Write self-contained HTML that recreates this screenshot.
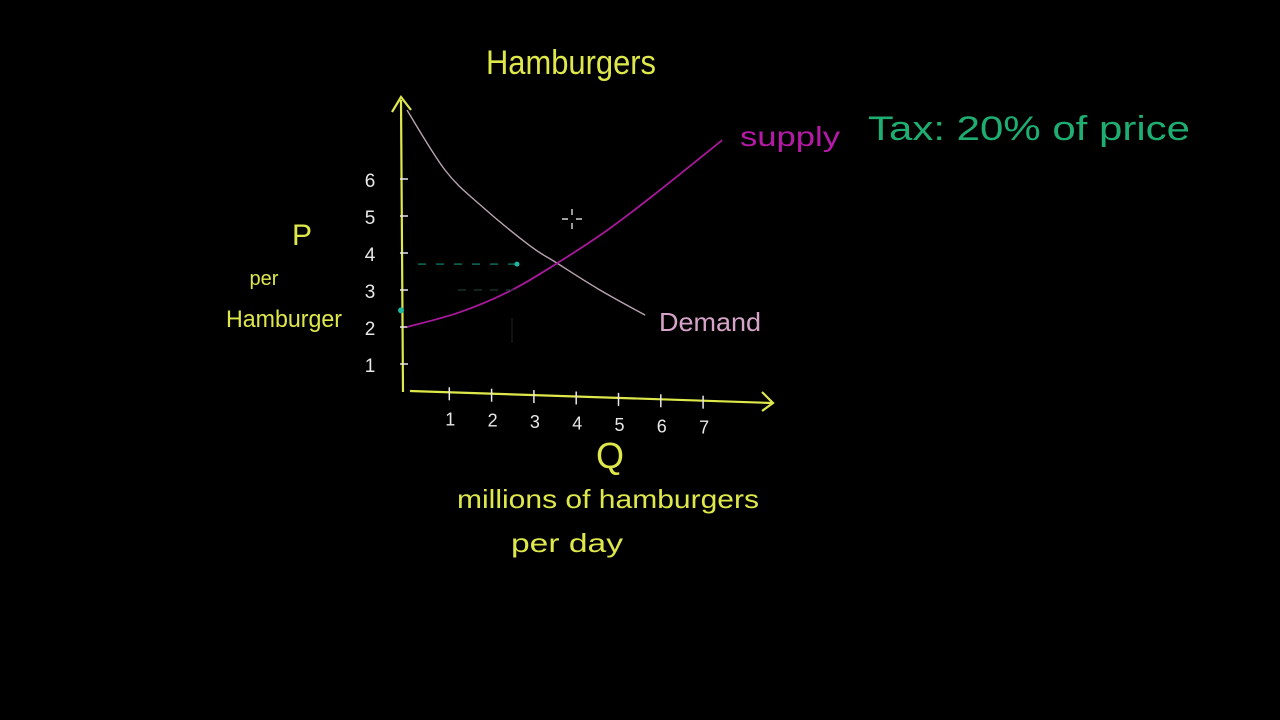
<!DOCTYPE html>
<html><head><meta charset="utf-8">
<style>
html,body{margin:0;padding:0;background:#000;width:1280px;height:720px;overflow:hidden}
svg{display:block}
text{font-family:"Liberation Sans",sans-serif}
</style></head>
<body>
<svg id="chart" width="1280" height="720" viewBox="0 0 1280 720" xmlns="http://www.w3.org/2000/svg">
<rect width="1280" height="720" fill="#000"/>
<text x="571" y="74" fill="#dfe84a" font-size="34" text-anchor="middle" textLength="170" lengthAdjust="spacingAndGlyphs">Hamburgers</text>
<text x="868" y="140" fill="#1fae72" font-size="34" textLength="322" lengthAdjust="spacingAndGlyphs">Tax: 20% of price</text>
<text x="740" y="146" fill="#b51aa6" font-size="28" textLength="100" lengthAdjust="spacingAndGlyphs">supply</text>
<text x="659" y="331" fill="#d7a3c8" font-size="26" textLength="102" lengthAdjust="spacingAndGlyphs">Demand</text>
<text x="302" y="245" fill="#dfe84a" font-size="30" text-anchor="middle">P</text>
<text x="264" y="285" fill="#dfe84a" font-size="20" text-anchor="middle">per</text>
<text x="284" y="327" fill="#dfe84a" font-size="24" text-anchor="middle" textLength="116" lengthAdjust="spacingAndGlyphs">Hamburger</text>
<text x="610" y="468" fill="#dfe84a" font-size="36" text-anchor="middle">Q</text>
<text x="608" y="508" fill="#dfe84a" font-size="26" text-anchor="middle" textLength="302" lengthAdjust="spacingAndGlyphs">millions of hamburgers</text>
<text x="567" y="552" fill="#dfe84a" font-size="26" text-anchor="middle" textLength="112" lengthAdjust="spacingAndGlyphs">per day</text>
<g id="plot"></g>
</svg>
<script>
const xTicks = [1,2,3,4,5,6,7];
const yTicks = [1,2,3,4,5,6];
const supplyQ = [0, 1.25, 2.48, 3.6, 4.8, 5.98, 7.45];
const supplyP = [2.0, 2.4, 3.0, 3.76, 4.67, 5.7, 7.05];
const demandQ = [0, 0.9, 1.73, 2.9, 3.5, 4.56, 5.63];
const demandP = [7.86, 6.24, 5.3, 4.2, 3.76, 3.0, 2.32];
const taxPrice = 3.7;
const taxQ = 2.6;
const supplierPrice = 3.0;
const buyerDotP = 2.45;

const NS = "http://www.w3.org/2000/svg";
const plot = document.getElementById('plot');
function xs(q){ return 407 + 42.3*q; }
function ys(p){ return 401 - 37*p; }
function mk(tag, attrs){ const e=document.createElementNS(NS,tag); for(const k in attrs) e.setAttribute(k,attrs[k]); plot.appendChild(e); return e; }

// axes
let ax = mk('path',{d:'M403,392 L401,100 M392,112 L401,97 L411,110',stroke:'#dfe84a','stroke-width':2.2,fill:'none'});


let axx = mk('path',{d:'M410,391 L772,403 M762,392 L773,403 L762,411',stroke:'#dfe84a','stroke-width':2.2,fill:'none'});



xTicks.forEach(q=>{
  const x=xs(q), yb=392+(x-410)*0.033;
  const t=mk('line',{x1:x,y1:yb-6,x2:x,y2:yb+7,stroke:'#e8e8e8','stroke-width':1.5});
  
  
  const l=mk('text',{x:x+1,y:yb+32,fill:'#e8e8e8','font-size':18,'text-anchor':'middle'});
  
  
  l.textContent=q;
});
yTicks.forEach(p=>{
  const y=ys(p);
  const t=mk('line',{x1:400,y1:y,x2:408,y2:y,stroke:'#e8e8e8','stroke-width':1.5});
  
  
  const l=mk('text',{x:370,y:y+8,fill:'#e8e8e8','font-size':19,'text-anchor':'middle'});
  
  
  l.textContent=p;
});

function smooth(Q,P){
  const pts=Q.map((q,i)=>[xs(q),ys(P[i])]);
  let d='M'+pts[0][0]+','+pts[0][1];
  for(let i=0;i<pts.length-1;i++){
    const p0=pts[Math.max(0,i-1)],p1=pts[i],p2=pts[i+1],p3=pts[Math.min(pts.length-1,i+2)];
    const c1=[p1[0]+(p2[0]-p0[0])/6,p1[1]+(p2[1]-p0[1])/6];
    const c2=[p2[0]-(p3[0]-p1[0])/6,p2[1]-(p3[1]-p1[1])/6];
    d+=' C'+c1[0]+','+c1[1]+' '+c2[0]+','+c2[1]+' '+p2[0]+','+p2[1];
  }
  return d;
}
const dl=mk('path',{d:smooth(demandQ,demandP),stroke:'#b9a3b0','stroke-width':1.4,fill:'none'});


const sl=mk('path',{d:smooth(supplyQ,supplyP),stroke:'#a8189a','stroke-width':1.8,fill:'none'});



const g1=mk('line',{x1:418,y1:ys(taxPrice),x2:xs(taxQ),y2:ys(taxPrice),stroke:'#0f6a5a','stroke-width':1.5,'stroke-dasharray':'8,10'});


const g2=mk('line',{x1:458,y1:ys(supplierPrice),x2:xs(taxQ),y2:ys(supplierPrice),stroke:'#1a3a34','stroke-width':1.2,'stroke-dasharray':'8,8'});


const g3=mk('line',{x1:512,y1:318,x2:512,y2:343,stroke:'#222','stroke-width':1});


const d1=mk('circle',{cx:xs(taxQ),cy:ys(taxPrice),r:2.5,fill:'#1fb8a0'});


const d2=mk('circle',{cx:401,cy:ys(buyerDotP),r:3,fill:'#1fb8a0'});


const cur=mk('path',{d:'M572,209 V215 M572,223 V229 M562,219 H568 M576,219 H582',stroke:'#fff','stroke-width':1.2});


</script>
</body></html>
